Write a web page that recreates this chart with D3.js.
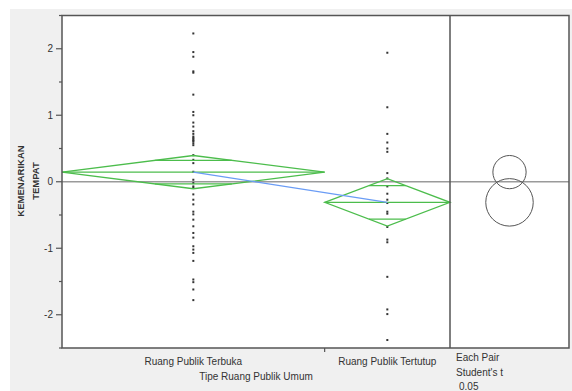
<!DOCTYPE html>
<html>
<head>
<meta charset="utf-8">
<script src="https://cdn.jsdelivr.net/npm/d3@7"></script>
<style>
  body { margin: 0; background: #fff; }
  text { font-family: Arial, "Liberation Sans", sans-serif; fill: #333; }
</style>
</head>
<body>
<svg width="572" height="391"></svg>
<script>
// data
var groups = ["Ruang Publik Terbuka", "Ruang Publik Tertutup"];
var terbuka = [2.23, 1.95, 1.88, 1.66, 1.64, 1.31, 1.05, 1.0, 0.89, 0.83, 0.76, 0.72, 0.68, 0.66, 0.64,
	0.62, 0.61, 0.58, 0.55, 0.40, 0.33, 0.28, 0.15, 0.03, -0.02, -0.07, -0.09, -0.19, -0.27, -0.34,
	-0.45, -0.49, -0.57, -0.67, -0.77, -0.84, -0.97, -1.02, -1.07, -1.19, -1.47, -1.51, -1.62, -1.78];
var tertutup = [1.94, 1.12, 0.72, 0.59, 0.5, 0.45, 0.13, 0.05, -0.07, -0.18, -0.27, -0.32, -0.45,
	-0.48, -0.68, -0.87, -0.91, -1.43, -1.92, -1.99, -2.38];
var means = [0.145, -0.31];
var ciHalf = [0.25, 0.357];
var yTicks = [-2, -1, 0, 1, 2];
var yMinor = [-2.5, -1.5, -0.5, 0.5, 1.5, 2.5];

var svg = d3.select("svg"),
	pLeft = 62, pTop = 15.5, pBottom = 348, pSplit = 450, pRight = 569;

var series = [terbuka, tertutup];
var total = terbuka.length + tertutup.length;

// background
svg.append("rect").attr("x", 10).attr("y", 9).attr("width", 562).attr("height", 382).attr("fill", "#f0f0f0");
svg.append("rect").attr("x", pLeft).attr("y", pTop).attr("width", pRight - pLeft).attr("height", pBottom - pTop).attr("fill", "#fff");

var yScale = d3.scaleLinear().domain([-2.5, 2.5]).range([pBottom, pTop]);
// group widths follow the group sizes
var xScale = d3.scaleLinear().domain([0, total]).range([pLeft, pSplit]);
var bounds = [[0, terbuka.length], [terbuka.length, total]];
var centers = bounds.map(function(b) { return xScale((b[0] + b[1]) / 2); });

var g = svg.append("g");
var green = "#4cbd4c";

// zero line
g.append("line")
 .attr("x1", pLeft).attr("x2", pRight)
 .attr("y1", yScale(0)).attr("y2", yScale(0))
 .attr("stroke", "#9a9a9a").attr("stroke-width", 1.5);

// points
series.forEach(function(vals, i) {
	g.selectAll(".pt" + i)
	 .data(vals)
	 .enter().append("rect")
	 .attr("x", centers[i] - 1)
	 .attr("y", function(d) { return yScale(d) - 1; })
	 .attr("width", 2).attr("height", 2)
	 .attr("fill", "#333");
});

// means diamonds
bounds.forEach(function(b, i) {
	var x0 = xScale(b[0]), x1 = xScale(b[1]), xc = centers[i];
	var m = means[i], h = ciHalf[i];
	var pts = [[x0, yScale(m)], [xc, yScale(m + h)], [x1, yScale(m)], [xc, yScale(m - h)]];
	g.append("path")
	 .attr("d", d3.line()(pts) + "Z")
	 .attr("fill", "none").attr("stroke", green).attr("stroke-width", 1.3);
	g.append("line")
	 .attr("x1", x0).attr("x2", x1)
	 .attr("y1", yScale(m)).attr("y2", yScale(m))
	 .attr("stroke", green).attr("stroke-width", 1.3);
	// overlap marks
	var d = h / Math.SQRT2, half = (x1 - x0) / 2 * (1 - 1 / Math.SQRT2);
	[m + d, m - d].forEach(function(v) {
		g.append("line")
		 .attr("x1", xc - half).attr("x2", xc + half)
		 .attr("y1", yScale(v)).attr("y2", yScale(v))
		 .attr("stroke", green).attr("stroke-width", 1.3);
	});
});

// line through the means
g.append("path")
 .attr("d", d3.line()(means.map(function(m, i) { return [centers[i], yScale(m)]; })))
 .attr("fill", "none").attr("stroke", "#6a9cf5").attr("stroke-width", 1.2);

// comparison circles
var cx = (pSplit + pRight) / 2;
g.selectAll(".circ")
 .data(means)
 .enter().append("circle")
 .attr("cx", cx)
 .attr("cy", function(d) { return yScale(d); })
 .attr("r", function(d, i) { return yScale(0) - yScale(ciHalf[i]); })
 .attr("fill", "none").attr("stroke", "#555").attr("stroke-width", 1);

// frame
svg.append("rect").attr("x", pLeft).attr("y", pTop).attr("width", pRight - pLeft).attr("height", pBottom - pTop)
 .attr("fill", "none").attr("stroke", "#555").attr("stroke-width", 1.5);
svg.append("line").attr("x1", pSplit).attr("x2", pSplit).attr("y1", pTop).attr("y2", pBottom)
 .attr("stroke", "#555").attr("stroke-width", 1.5);

// y axis ticks
svg.selectAll(".ytick").data(yTicks).enter().append("line")
 .attr("x1", pLeft - 6).attr("x2", pLeft)
 .attr("y1", function(d) { return yScale(d); }).attr("y2", function(d) { return yScale(d); })
 .attr("stroke", "#555").attr("stroke-width", 1.2);
svg.selectAll(".yminor").data(yMinor).enter().append("line")
 .attr("x1", pLeft - 3).attr("x2", pLeft)
 .attr("y1", function(d) { return yScale(d); }).attr("y2", function(d) { return yScale(d); })
 .attr("stroke", "#555").attr("stroke-width", 1.2);
svg.selectAll(".ylab").data(yTicks).enter().append("text")
 .attr("x", pLeft - 9)
 .attr("y", function(d) { return yScale(d) + 3.5; })
 .attr("text-anchor", "end")
 .style("font-size", "10px")
 .text(function(d) { return d; });

// x axis tick at group boundary
svg.append("line")
 .attr("x1", xScale(terbuka.length)).attr("x2", xScale(terbuka.length))
 .attr("y1", pBottom).attr("y2", pBottom + 4)
 .attr("stroke", "#555").attr("stroke-width", 1.2);
svg.selectAll(".xlab").data(groups).enter().append("text")
 .attr("x", function(d, i) { return centers[i]; })
 .attr("y", 365)
 .attr("text-anchor", "middle")
 .style("font-size", "10px")
 .text(function(d) { return d; });
svg.append("text")
 .attr("x", (pLeft + pSplit) / 2).attr("y", 380)
 .attr("text-anchor", "middle")
 .style("font-size", "10px")
 .text("Tipe Ruang Publik Umum");

// y title
svg.append("text")
 .attr("transform", "translate(24,181) rotate(-90)")
 .attr("text-anchor", "middle")
 .style("font-size", "9.5px").style("font-weight", "bold")
 .text("KEMENARIKAN");
svg.append("text")
 .attr("transform", "translate(39,181) rotate(-90)")
 .attr("text-anchor", "middle")
 .style("font-size", "9.5px").style("font-weight", "bold")
 .text("TEMPAT");

// circle panel notes
var notes = ["Each Pair", "Student's t", "0.05"];
svg.selectAll(".note").data(notes).enter().append("text")
 .attr("x", function(d, i) { return i == 2 ? 459 : 456; })
 .attr("y", function(d, i) { return 361 + i * 14.5; })
 .style("font-size", "10px")
 .text(function(d) { return d; });
</script>
</body>
</html>
